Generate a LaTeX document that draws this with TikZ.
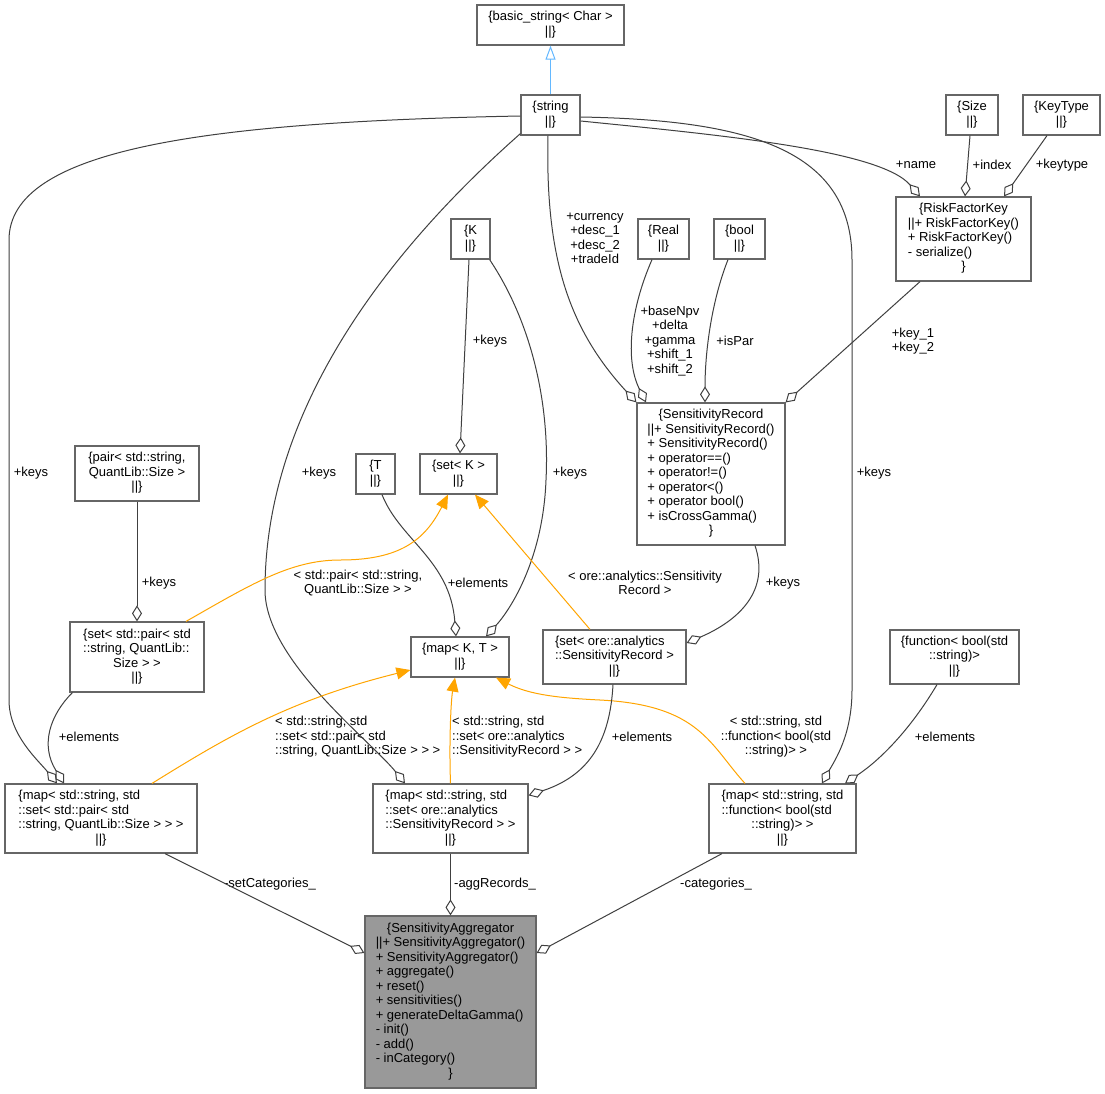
\documentclass[tikz,border=0pt]{standalone}
\usepackage{fontspec}
\setmainfont{Liberation Sans}
\usetikzlibrary{arrows.meta}
\definecolor{boxc}{HTML}{666666}
\definecolor{edgec}{HTML}{404040}
\definecolor{orng}{HTML}{FFA500}
\definecolor{bluec}{HTML}{63B8FF}
\definecolor{safill}{HTML}{999999}
\newcommand\cl[1]{\multicolumn{1}{@{}c@{}}{#1}}
\newcommand\tb[1]{\begin{tabular}{@{}l@{}}#1\end{tabular}}
\newcommand\tc[1]{\begin{tabular}{@{}c@{}}#1\end{tabular}}
\begin{document}
\begin{tikzpicture}[x=1pt,y=-1pt,
 every node/.style={font=\fontsize{13}{14.5}\selectfont},
 cls/.style={draw=boxc, line width=1.2pt, rectangle, inner sep=0pt, fill=white},
 lbl/.style={inner sep=0pt, align=center},
 agg/.style={draw=edgec, line width=1pt, -{Diamond[open, length=16pt, width=10pt, line width=1pt]}},
 tmpl/.style={draw=orng, line width=1pt, -{Triangle[length=14pt, width=12pt, fill=orng]}},
 inh/.style={draw=bluec, line width=1pt, -{Triangle[open, length=14pt, width=10pt]}}
]
\useasboundingbox[fill=white] (0,0) rectangle (1105,1093);

% class boxes
\node[cls,minimum width=147pt,minimum height=40pt] (bstr) at (550.5,25) {\tc{\{basic\_string< Char >\\||\}}};
\node[cls,minimum width=59pt,minimum height=40pt] (str) at (550.5,115) {\tc{\{string\\||\}}};
\node[cls,minimum width=52pt,minimum height=40pt] (size) at (972,115) {\tc{\{Size\\||\}}};
\node[cls,minimum width=77pt,minimum height=40pt] (ktype) at (1061.5,115) {\tc{\{KeyType\\||\}}};
\node[cls,minimum width=135pt,minimum height=84pt] (rfk) at (963.5,239) {\tb{\cl{\{RiskFactorKey}\\||+ RiskFactorKey()\\+ RiskFactorKey()\\- serialize()\\\cl{\}}}};
\node[cls,minimum width=39pt,minimum height=40pt] (K) at (470.5,239) {\tc{\{K\\||\}}};
\node[cls,minimum width=51pt,minimum height=40pt] (real) at (663.5,239) {\tc{\{Real\\||\}}};
\node[cls,minimum width=51pt,minimum height=40pt] (bool) at (739.5,239) {\tc{\{bool\\||\}}};
\node[cls,minimum width=148pt,minimum height=142pt] (SR) at (711,474) {\tb{\cl{\{SensitivityRecord}\\||+ SensitivityRecord()\\+ SensitivityRecord()\\+ operator==()\\+ operator!=()\\+ operator<()\\+ operator bool()\\+ isCrossGamma()\\\cl{\}}}};
\node[cls,minimum width=39pt,minimum height=40pt] (T) at (375.5,474) {\tc{\{T\\||\}}};
\node[cls,minimum width=77pt,minimum height=40pt] (setK) at (458.5,474) {\tc{\{set< K >\\||\}}};
\node[cls,minimum width=124pt,minimum height=55pt] (pair) at (137,473.5) {\tc{\{pair< std::string,\\QuantLib::Size >\\||\}}};
\node[cls,minimum width=134pt,minimum height=70pt] (setpair) at (137,657) {\tb{\{set< std::pair< std\\::string, QuantLib::\\\cl{Size > >}\\\cl{||\}}}};
\node[cls,minimum width=143pt,minimum height=54pt] (setore) at (614.5,657) {\tb{\{set< ore::analytics\\::SensitivityRecord >\\\cl{||\}}}};
\node[cls,minimum width=98pt,minimum height=40pt] (mapKT) at (460,657) {\tc{\{map< K, T >\\||\}}};
\node[cls,minimum width=129pt,minimum height=54pt] (func) at (954.5,657) {\tc{\{function< bool(std\\::string)>\\||\}}};
\node[cls,minimum width=192pt,minimum height=69pt] (mA) at (101,818.5) {\tb{\{map< std::string, std\\::set< std::pair< std\\::string, QuantLib::Size > > >\\\cl{||\}}}};
\node[cls,minimum width=155pt,minimum height=69pt] (mB) at (450.5,818.5) {\tb{\{map< std::string, std\\::set< ore::analytics\\::SensitivityRecord > >\\\cl{||\}}}};
\node[cls,minimum width=147pt,minimum height=69pt] (mC) at (782.5,818.5) {\tb{\{map< std::string, std\\::function< bool(std\\\cl{::string)> >}\\\cl{||\}}}};
\node[cls,fill=safill,minimum width=171pt,minimum height=172pt] (SA) at (450.5,1002) {\tb{\cl{\{SensitivityAggregator}\\||+ SensitivityAggregator()\\+ SensitivityAggregator()\\+ aggregate()\\+ reset()\\+ sensitivities()\\+ generateDeltaGamma()\\- init()\\- add()\\- inCategory()\\\cl{\}}}};

% edge labels
\node[lbl] (l1) at (31,473) {+keys};
\node[lbl] (l2) at (319,473) {+keys};
\node[lbl] (l3) at (159,583) {+keys};
\node[lbl] (l4) at (358,583) {< std::pair< std::string,\\QuantLib::Size > >};
\node[lbl] (l5) at (478,583) {+elements};
\node[lbl] (l6) at (570,473) {+keys};
\node[lbl] (l7) at (89,737) {+elements};
\node[lbl,anchor=west,align=left] (l8) at (275,737) {< std::string, std\\::set< std::pair< std\\::string, QuantLib::Size > > >};
\node[lbl,anchor=west,align=left] (l9) at (452,737) {< std::string, std\\::set< ore::analytics\\::SensitivityRecord > >};
\node[lbl] (l10) at (776,737) {< std::string, std\\::function< bool(std\\::string)> >};
\node[lbl] (l11) at (642,737) {+elements};
\node[lbl] (l12) at (945,737) {+elements};
\node[lbl] (l13) at (645,583) {< ore::analytics::Sensitivity\\Record >};
\node[lbl] (l14) at (783,583) {+keys};
\node[lbl] (l15) at (874,473) {+keys};
\node[lbl] (l16) at (490,341) {+keys};
\node[lbl] (l17) at (595,238.5) {+currency\\+desc\_1\\+desc\_2\\+tradeId};
\node[lbl] (l18) at (670,341) {+baseNpv\\+delta\\+gamma\\+shift\_1\\+shift\_2};
\node[lbl] (l19) at (735,341) {+isPar};
\node[lbl] (l20) at (913,341) {+key\_1\\+key\_2};
\node[lbl] (l21) at (916,165) {+name};
\node[lbl] (l22) at (992,165) {+index};
\node[lbl] (l23) at (1062,165) {+keytype};
\node[lbl] (l24) at (270,884) {-setCategories\_};
\node[lbl] (l25) at (495,884) {-aggRecords\_};
\node[lbl] (l26) at (716,884) {-categories\_};

% connectors
\draw[inh] (str.north) -- (bstr.south);
\draw[agg] ([shift={(0,1)}]str.west) .. controls (200,122) and (9,150) .. (9,240) -- (9,700) .. controls (9,735) and (38,760) .. ([shift={(-44,0)}]mA.north);
\draw[agg] ([shift={(0,-2)}]str.south west) .. controls (400,240) and (265,400) .. (265,590) .. controls (265,660) and (370,740) .. ([shift={(-45.5,0)}]mB.north);
\draw[agg] ([shift={(-2.5,0)}]str.south) .. controls (545,260) and (570,330) .. (SR.north west);
\draw[agg] ([shift={(-11.5,0)}]real.south) .. controls (630,310) and (625,360) .. ([shift={(-65,0)}]SR.north);
\draw[agg] ([shift={(-11.5,0)}]bool.south) .. controls (712,300) and (705,350) .. ([shift={(-6,0)}]SR.north);
\draw[agg] ([shift={(0,2)}]str.east) .. controls (750,120) and (852,150) .. (852,260) -- (852,690) .. controls (852,735) and (835,760) .. ([shift={(39.5,0)}]mC.north);
\draw[agg] ([shift={(0,6)}]str.east) .. controls (720,135) and (880,150) .. ([shift={(-43.5,0)}]rfk.north);
\draw[agg] ([shift={(-2,0)}]size.south) -- ([shift={(1.5,0)}]rfk.north);
\draw[agg] ([shift={(-14.5,0)}]ktype.south) -- ([shift={(40.5,0)}]rfk.north);
\draw[agg] ([shift={(-43.5,0)}]rfk.south) -- (SR.north east);
\draw[agg] ([shift={(-1.5,0)}]K.south) -- ([shift={(1.5,0)}]setK.north);
\draw[agg] ([shift={(-1,0)}]K.south east) .. controls (530,320) and (550,400) .. (546,480) .. controls (543,560) and (510,610) .. ([shift={(26,0)}]mapKT.north);
\draw[agg] ([shift={(6.5,0)}]T.south) .. controls (400,540) and (450,560) .. ([shift={(-4,0)}]mapKT.north);
\draw[tmpl] ([shift={(49,0)}]setpair.north) .. controls (250,585) and (290,560) .. (340,560) .. controls (400,560) and (425,540) .. ([shift={(-10.5,0)}]setK.south);
\draw[tmpl] ([shift={(-24.5,0)}]setore.north) -- ([shift={(16.5,0)}]setK.south);
\draw[agg] ([shift={(44,0)}]SR.south) .. controls (770,590) and (740,620) .. ([shift={(0,-14)}]setore.east);
\draw[agg] (pair.south) -- (setpair.north);
\draw[agg] ([shift={(3,0)}]setpair.south west) .. controls (50,715) and (40,745) .. ([shift={(-37,0)}]mA.north);
\draw[tmpl] ([shift={(51,0)}]mA.north) .. controls (230,735) and (290,700) .. ([shift={(0,13)}]mapKT.west);
\draw[tmpl] (mB.north) .. controls (449,740) and (451,700) .. ([shift={(-5,0)}]mapKT.south);
\draw[tmpl] ([shift={(-37.5,0)}]mC.north) .. controls (710,745) and (700,705) .. (600,700) .. controls (560,698) and (530,695) .. ([shift={(36,0)}]mapKT.south);
\draw[agg] ([shift={(-1.5,0)}]setore.south) .. controls (610,740) and (590,775) .. ([shift={(0,12)}]mB.north east);
\draw[agg] ([shift={(-17.5,0)}]func.south) .. controls (910,730) and (880,760) .. ([shift={(62.5,0)}]mC.north);
\draw[agg] ([shift={(64,0)}]mA.south) -- ([shift={(0,-49)}]SA.west);
\draw[agg] (mB.south) -- (SA.north);
\draw[agg] ([shift={(-60.5,0)}]mC.south) -- ([shift={(0,-49)}]SA.east);
\end{tikzpicture}
\end{document}
